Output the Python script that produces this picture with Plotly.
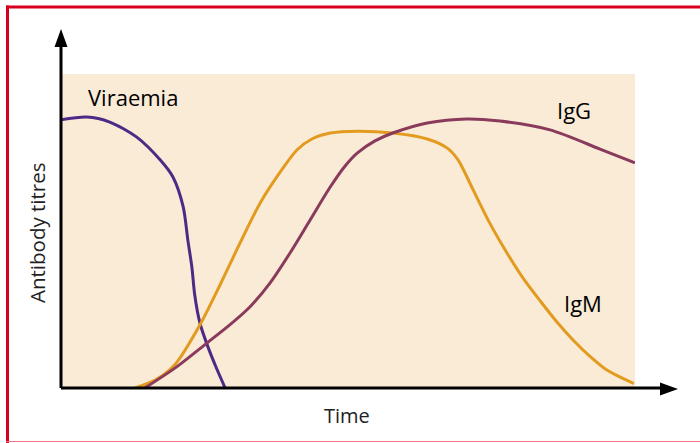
import plotly.graph_objects as go

# ---- data (time in arbitrary units 0-100, titre in arbitrary units 0-100) ----
viraemia_t = [0, 4.5, 8.5, 13.2, 17.3, 19.5, 21.3, 22.1, 22.8, 23.3, 24.2, 25.6, 27.0, 28.6]
viraemia_v = [85.4, 86.3, 84.7, 79.9, 72.6, 67.2, 57.6, 47.1, 38.5, 29.6, 20.7, 13.1, 6.7, 0]

igm_t = [12.9, 16.4, 19.9, 24.2, 27.7, 31.2, 34.7, 38.2, 41.1, 43.7, 46.9, 51.6, 57.8,
         63.8, 67.3, 69.2, 71.8, 74.7, 77.7, 80.5, 83.5, 86.4, 89.2, 92.2, 95.1, 99.8]
igm_v = [0, 2.5, 7.6, 20.1, 32.8, 46.2, 58.9, 68.8, 75.8, 79.3, 81.2, 81.8, 81.2,
         79.3, 76.4, 72.6, 63.1, 52.5, 43.0, 35.0, 27.7, 21.0, 15.3, 10.0, 5.7, 1.4]

igg_t = [14.6, 19.9, 25.4, 29.4, 32.9, 36.4, 39.9, 43.4, 46.9, 49.5, 51.6, 54.7, 57.8,
         63.8, 70.7, 76.5, 85.2, 93.9, 100]
igg_v = [0, 6.4, 14.3, 20.1, 25.8, 33.4, 43.0, 53.5, 64.0, 70.7, 74.8, 78.7, 81.2,
         84.4, 85.7, 85.0, 82.2, 76.1, 71.7]

labels = ["Viraemia", "IgG", "IgM"]
label_t = [12.5, 89.4, 90.9]
label_v = [92.7, 88.5, 27.1]

# ---- layout constants ----
W, H = 700, 443
ML, MR, MT, MB = 61, 65, 74, 55
PW, PH = W - ML - MR, H - MT - MB

def px(x):  # pixel x -> paper x
    return (x - ML) / PW

def py(y):  # pixel y -> paper y
    return (H - MB - y) / PH

PURPLE = "#4E2A86"
ORANGE = "#E39B1F"
MAROON = "#8A3B5C"
BG = "#FAEBD7"
RED = "#D8001E"

fig = go.Figure()
for t, v, c in [(viraemia_t, viraemia_v, PURPLE), (igm_t, igm_v, ORANGE), (igg_t, igg_v, MAROON)]:
    fig.add_trace(go.Scatter(x=t, y=v, mode="lines", line=dict(color=c, width=3, shape="spline", smoothing=0.8),
                             hoverinfo="skip", showlegend=False))

shapes = [
    # axes lines
    dict(type="line", xref="paper", yref="paper", x0=0, y0=0, x1=px(662), y1=0,
         line=dict(color="black", width=3)),
    dict(type="line", xref="paper", yref="paper", x0=0, y0=0, x1=0, y1=py(45),
         line=dict(color="black", width=3)),
    # arrow heads
    dict(type="path", xref="paper", yref="paper",
         path=f"M {px(678)},{py(389)} L {px(660)},{py(382.5)} L {px(660)},{py(395.5)} Z",
         fillcolor="black", line=dict(color="black", width=0)),
    dict(type="path", xref="paper", yref="paper",
         path=f"M {px(61)},{py(29)} L {px(54.5)},{py(47)} L {px(67.5)},{py(47)} Z",
         fillcolor="black", line=dict(color="black", width=0)),
    # red frame
    dict(type="line", xref="paper", yref="paper", x0=px(7.5), y0=py(5.5), x1=px(7.5), y1=py(443),
         line=dict(color=RED, width=3)),
    dict(type="line", xref="paper", yref="paper", x0=px(6), y0=py(7), x1=px(700), y1=py(7),
         line=dict(color=RED, width=3)),
    dict(type="line", xref="paper", yref="paper", x0=px(6), y0=py(441.5), x1=px(700), y1=py(441.5),
         line=dict(color="#F07888", width=1)),
]

annotations = []
for txt, t, v in zip(labels, label_t, label_v):
    annotations.append(dict(x=t, y=v, xref="x", yref="y", text=txt, showarrow=False,
                            xanchor="center", yanchor="middle",
                            font=dict(size=22, color="black", family="Open Sans")))
annotations.append(dict(x=px(347), y=py(415), xref="paper", yref="paper", text="Time", showarrow=False,
                        xanchor="center", yanchor="middle",
                        font=dict(size=20, color="#222222", family="Open Sans")))
annotations.append(dict(x=px(37), y=py(233), xref="paper", yref="paper", text="Antibody titres",
                        showarrow=False, textangle=-90, xanchor="center", yanchor="middle",
                        font=dict(size=20.5, color="#222222", family="Open Sans")))

fig.update_layout(
    width=W, height=H,
    margin=dict(l=ML, r=MR, t=MT, b=MB),
    paper_bgcolor="white", plot_bgcolor=BG,
    xaxis=dict(range=[0, 100], showgrid=False, zeroline=False, showticklabels=False, showline=False, ticks=""),
    yaxis=dict(range=[0, 100], showgrid=False, zeroline=False, showticklabels=False, showline=False, ticks=""),
    shapes=shapes, annotations=annotations,
)

fig.write_html("out.html", config={"displayModeBar": False},
               post_script="document.body.style.margin='0';document.body.style.overflow='hidden';")
